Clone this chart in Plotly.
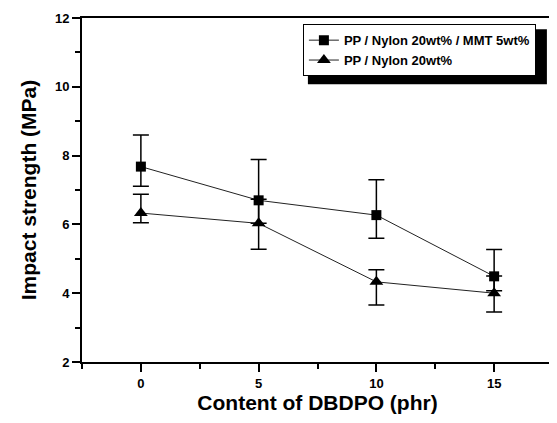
import plotly.graph_objects as go

content_phr = [0, 5, 10, 15]

mmt_name = "PP / Nylon 20wt% / MMT 5wt%"
mmt_values = [7.68, 6.70, 6.27, 4.49]
mmt_err_plus = [0.92, 1.19, 1.03, 0.78]
mmt_err_minus = [0.57, 0.67, 0.67, 0.42]

nylon_name = "PP / Nylon 20wt%"
nylon_values = [6.33, 6.03, 4.33, 4.00]
nylon_err_plus = [0.55, 0.70, 0.35, 0.50]
nylon_err_minus = [0.28, 0.75, 0.67, 0.55]

x_ticks = [0, 5, 10, 15]
y_ticks = [2, 4, 6, 8, 10, 12]

FONT = "Liberation Sans, Arial, sans-serif"

fig = go.Figure()
fig.add_trace(go.Scatter(
    x=content_phr, y=mmt_values, name=mmt_name, mode="lines+markers",
    line=dict(color="#222", width=1),
    marker=dict(symbol="square", size=10, color="black"),
    error_y=dict(type="data", symmetric=False, array=mmt_err_plus,
                 arrayminus=mmt_err_minus, color="black", thickness=1.5, width=8),
))
fig.add_trace(go.Scatter(
    x=content_phr, y=nylon_values, name=nylon_name, mode="lines+markers",
    line=dict(color="#222", width=1),
    marker=dict(symbol="triangle-up", size=12, color="black"),
    error_y=dict(type="data", symmetric=False, array=nylon_err_plus,
                 arrayminus=nylon_err_minus, color="black", thickness=1.5, width=8),
))

axis_common = dict(
    showline=True, linecolor="black", linewidth=2, mirror=True,
    ticks="outside", ticklen=8, tickwidth=2, tickcolor="black",
    showgrid=False, zeroline=False, automargin=False,
    tickfont=dict(family=FONT, size=13, color="black", weight="bold"),
)

LEG_X, LEG_Y = 0.469, 0.982

fig.update_layout(
    width=549, height=415,
    margin=dict(l=74, r=4, t=10, b=61),
    paper_bgcolor="white", plot_bgcolor="white",
    xaxis=dict(range=[-2.5, 17.5], tickvals=x_ticks,
               minor=dict(dtick=2.5, tick0=0, ticks="outside", ticklen=5, tickwidth=1.5, tickcolor="black"),
               title=dict(text="Content of DBDPO (phr)", standoff=5,
                          font=dict(family=FONT, size=21, color="black", weight="bold")),
               **axis_common),
    yaxis=dict(range=[2, 12], tickvals=y_ticks,
               minor=dict(dtick=1, tick0=0, ticks="outside", ticklen=5, tickwidth=1.5, tickcolor="black"),
               title=dict(text="Impact strength (MPa)", standoff=13,
                          font=dict(family=FONT, size=21, color="black", weight="bold")),
               **axis_common),
    showlegend=True,
    legend=dict(x=LEG_X, y=LEG_Y, xanchor="left", yanchor="top",
                bgcolor="white", bordercolor="black", borderwidth=1,
                font=dict(family=FONT, size=13, color="black", weight="bold"),
                itemwidth=30, tracegroupgap=0),
    shapes=[dict(type="rect", xref="paper", yref="paper",
                 xsizemode="pixel", ysizemode="pixel",
                 xanchor=LEG_X, yanchor=LEG_Y,
                 x0=5, x1=244, y0=-5, y1=-60,
                 fillcolor="black", line=dict(width=0), layer="above")],
)

fig.write_html("out.html")
